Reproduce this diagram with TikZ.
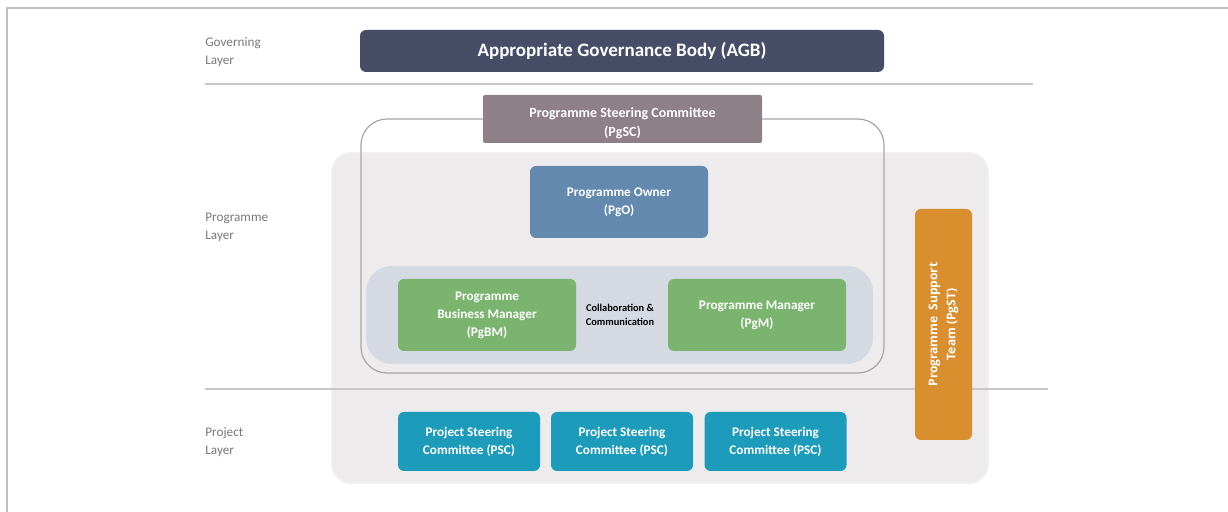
\documentclass[tikz,border=0pt]{standalone}
\usepackage{fontspec}
\setmainfont{Carlito}
\newfontfamily\opensans{Open Sans}
\usetikzlibrary{positioning, calc}
\definecolor{frame}{HTML}{BFBFBF}
\definecolor{layertext}{HTML}{7A7A7A}
\definecolor{rule}{HTML}{C8C8C8}
\definecolor{agbfill}{HTML}{474D66}
\definecolor{pgscfill}{HTML}{8E8087}
\definecolor{pgofill}{HTML}{6389AF}
\definecolor{mgrfill}{HTML}{7AB46F}
\definecolor{pscfill}{HTML}{1C9BBA}
\definecolor{pgstfill}{HTML}{D98F2E}
\definecolor{panel}{HTML}{EDEBEC}
\definecolor{panelrim}{HTML}{F2F1F1}
\definecolor{collab}{HTML}{D4D9E2}
\definecolor{outline}{HTML}{A6A6A6}
\tikzset{
  font=\bfseries,
  %
  box/.style={
    draw=none, rounded corners=3pt, inner sep=2pt, align=center,
    text=white, font=\bfseries\fontsize{6.6}{9}\selectfont,
  },
  boxagb/.style={box, fill=agbfill, font=\bfseries\fontsize{9.5}{11}\selectfont},
  boxsc/.style={box, fill=pgscfill, rounded corners=1pt,
                font=\bfseries\fontsize{7}{9.5}\selectfont},
  boxo/.style={box, fill=pgofill},
  boxm/.style={box, fill=mgrfill},
  boxpsc/.style={box, fill=pscfill},
  boxst/.style={box, fill=pgstfill,
                font=\opensans\bfseries\fontsize{6}{9}\selectfont},
  %
  layer/.style={font=\fontsize{6.6}{9}\selectfont, text=layertext,
                align=left, anchor=north west, inner sep=0pt},
  note/.style={font=\bfseries\fontsize{5.2}{7}\selectfont, text=black,
               align=center, inner sep=0pt},
  sep/.style={draw=rule, line width=0.6pt},
}
\begin{document}
\begin{tikzpicture}[x=0.5pt, y=-0.5pt]

  \useasboundingbox (0,0) rectangle (1228,512);
  \fill[white] (0,0) rectangle (1228,512);

  % frame
  \draw[frame, line width=1pt] (7,512) -- (7,8) -- (1228,8);

  % panels
  \fill[panelrim, rounded corners=10pt] (331,152) rectangle (989,484);
  \fill[panel, rounded corners=9pt] (333,154) rectangle (987,482);
  \draw[outline, line width=0.6pt, rounded corners=13pt]
    (361,119) rectangle (884,373);
  \fill[collab, rounded corners=13pt] (366,266) rectangle (873,364);

  % layer rules
  \draw[sep] (205,84) -- (1033,84);
  \draw[sep] (205,389) -- (1048,389);

  % left-hand layer names
  \node[layer] (govlbl)  at (205,37)  {Governing\\Layer};
  \node[layer] (pglbl)   at (205,213) {Programme\\Layer};
  \node[layer] (projlbl) at (205,427) {Project\\Layer};

  \node[boxagb, minimum width=262pt, minimum height=21pt] (agb) at (622,51)
    {Appropriate Governance Body (AGB)};
  \node[boxsc, minimum width=139.5pt, minimum height=24pt] (pgsc) at (622.5,119)
    {\rule{0pt}{9pt}Programme Steering Committee\\(PgSC)};
  \node[boxo, minimum width=89pt, minimum height=36pt] (pgo) at (619,202)
    {Programme Owner\\(PgO)};

  \node[boxm, minimum width=89pt, minimum height=36pt] (pgbm) at (487,315)
    {Programme\\Business Manager\\(PgBM)};
  \node[boxm, minimum width=89pt, minimum height=36pt] (pgm) at (757,315)
    {Programme Manager\\(PgM)};
  \node[note] (collabtxt) at (620,315) {Collaboration \&\\Communication};

  \node[boxst, minimum width=115.5pt, minimum height=28.5pt, rotate=90]
    (pgst) at (943.5,324.5) {Programme\ \ Support\\Team (PgST)};

  % project steering committees
  \node[boxpsc, minimum width=71pt, minimum height=29.5pt] (psc1) at (469,441.5)
    {Project Steering\\Committee (PSC)};
  \node[boxpsc, minimum width=71pt, minimum height=29.5pt] (psc2) at (622,441.5)
    {Project Steering\\Committee (PSC)};
  \node[boxpsc, minimum width=71pt, minimum height=29.5pt] (psc3) at (775.5,441.5)
    {Project Steering\\Committee (PSC)};

\end{tikzpicture}
\end{document}
